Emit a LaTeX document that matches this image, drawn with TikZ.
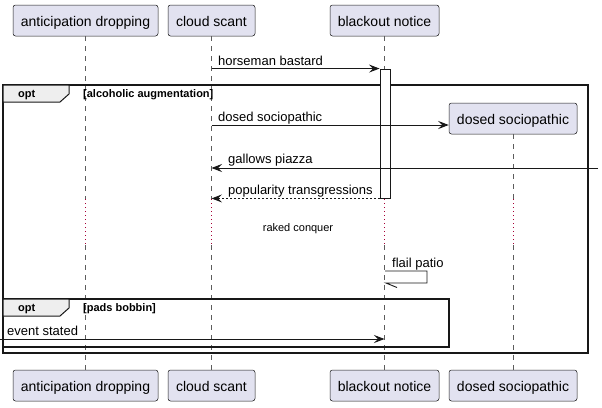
\documentclass[tikz,border=0pt]{standalone}
\usepackage{fontspec}
\setmainfont{Liberation Sans}
\usetikzlibrary{arrows.meta}
\definecolor{partfill}{HTML}{E2E2F0}
\definecolor{lineblack}{HTML}{181818}
\definecolor{delaycol}{HTML}{A80036}
\definecolor{tabfill}{HTML}{EEEEEE}
\begin{document}
\begin{tikzpicture}[x=1pt,y=-1pt,
  part/.style={draw=lineblack, fill=partfill, rounded corners=2.5pt, line width=0.5pt, inner sep=0pt, minimum height=31pt, text height=13.5pt, text depth=2.5pt, font=\fontsize{14}{16}\selectfont},
  lifeline/.style={draw=lineblack!70, line width=0.6pt, dash pattern=on 5pt off 5pt},
  delayline/.style={draw=delaycol, line width=0.8pt, dash pattern=on 1pt off 3pt},
  msg/.style={draw=lineblack, line width=0.9pt, -{Stealth[length=10.5pt,width=8pt,inset=4pt]}},
  msglabel/.style={anchor=base west, inner sep=0pt, font=\fontsize{13}{15}\selectfont},
  frame/.style={draw=lineblack, line width=1.5pt},
  tab/.style={draw=lineblack, fill=tabfill, line width=1pt},
  grouplabel/.style={anchor=base west, inner sep=0pt, font=\bfseries\fontsize{11}{13}\selectfont},
  actbox/.style={draw=lineblack, fill=white, line width=0.9pt, inner sep=0pt, minimum width=10pt},
]
\useasboundingbox (0,0) rectangle (602,407);
% participants
\node[part, minimum width=145pt] (ad) at (85.5,20.5) {anticipation dropping};
\node[part, minimum width=87pt] (cs) at (211.5,20.5) {cloud scant};
\node[part, minimum width=109pt] (bn) at (384.5,20.5) {blackout notice};
\node[part, minimum width=128pt] (ds) at (513,118.5) {dosed sociopathic};
\node[part, minimum width=145pt] (ad2) at (85.5,385.5) {anticipation dropping};
\node[part, minimum width=87pt] (cs2) at (211.5,385.5) {cloud scant};
\node[part, minimum width=109pt] (bn2) at (384.5,385.5) {blackout notice};
\node[part, minimum width=128pt] (ds2) at (513,385.5) {dosed sociopathic};
% delay band
\coordinate (d1) at (0,199);
\coordinate (d2) at (0,245);
% lifelines
\foreach \p in {ad,cs,bn,ds}{
  \draw[lifeline] (\p.south) -- (\p.south |- d1);
  \draw[delayline] (\p.south |- d1) -- (\p.south |- d2);
  \draw[lifeline] (\p.south |- d2) -- (\p2.north);
}
% frames
\draw[frame] (3,85) rectangle (588,353);
\draw[tab] (3,85) -- (69,85) -- (69,94) -- (60,102) -- (3,102) -- cycle;
\node[grouplabel] (opt1) at (18,97) {opt};
\node[grouplabel] (cond1) at (83,97) {[alcoholic augmentation]};
\draw[frame] (3,299) rectangle (449,347);
\draw[tab] (3,299) -- (69,299) -- (69,308) -- (60,316) -- (3,316) -- cycle;
\node[grouplabel] (opt2) at (18,311) {opt};
\node[grouplabel] (cond2) at (83,311) {[pads bobbin]};
% activation
\node[actbox, minimum height=129pt] (act) at (385,133.5) {};
% messages
\coordinate (m1) at (cs.south |- act.north west);
\draw[msg] (m1) -- (act.north west);
\node[msglabel] (l1) at (218,65.5) {horseman bastard};
\coordinate (m2) at (211.5,125);
\draw[msg] (m2) -- (ds.west |- m2);
\node[msglabel] (l2) at (218,121.5) {dosed sociopathic};
\coordinate (m3) at (598,168);
\draw[msg] (m3) -- (cs.south |- m3);
\node[msglabel] (l3) at (228,163.5) {gallows piazza};
\draw[msg, dash pattern=on 2pt off 2pt] (act.south west) -- (cs.south |- act.south west);
\node[msglabel] (l4) at (228,194) {popularity transgressions};
\node[anchor=base, inner sep=0pt, font=\fontsize{11}{13}\selectfont] (dl) at (298,231.5) {raked conquer};
% self message
\coordinate (s1) at (385,271);
\coordinate (s2) at (427,271);
\coordinate (s3) at (427,283);
\coordinate (s4) at (386,283);
\coordinate (s5) at (397,287.5);
\draw[draw=lineblack, line width=0.9pt] (s1) -- (s2) -- (s3) -- (s4) -- (s5);
\node[msglabel] (l5) at (392,267.5) {flail patio};
% found message
\coordinate (e1) at (0,339);
\draw[msg] (e1) -- (bn.south |- e1);
\node[msglabel] (l6) at (7,335) {event stated};
\end{tikzpicture}
\end{document}
